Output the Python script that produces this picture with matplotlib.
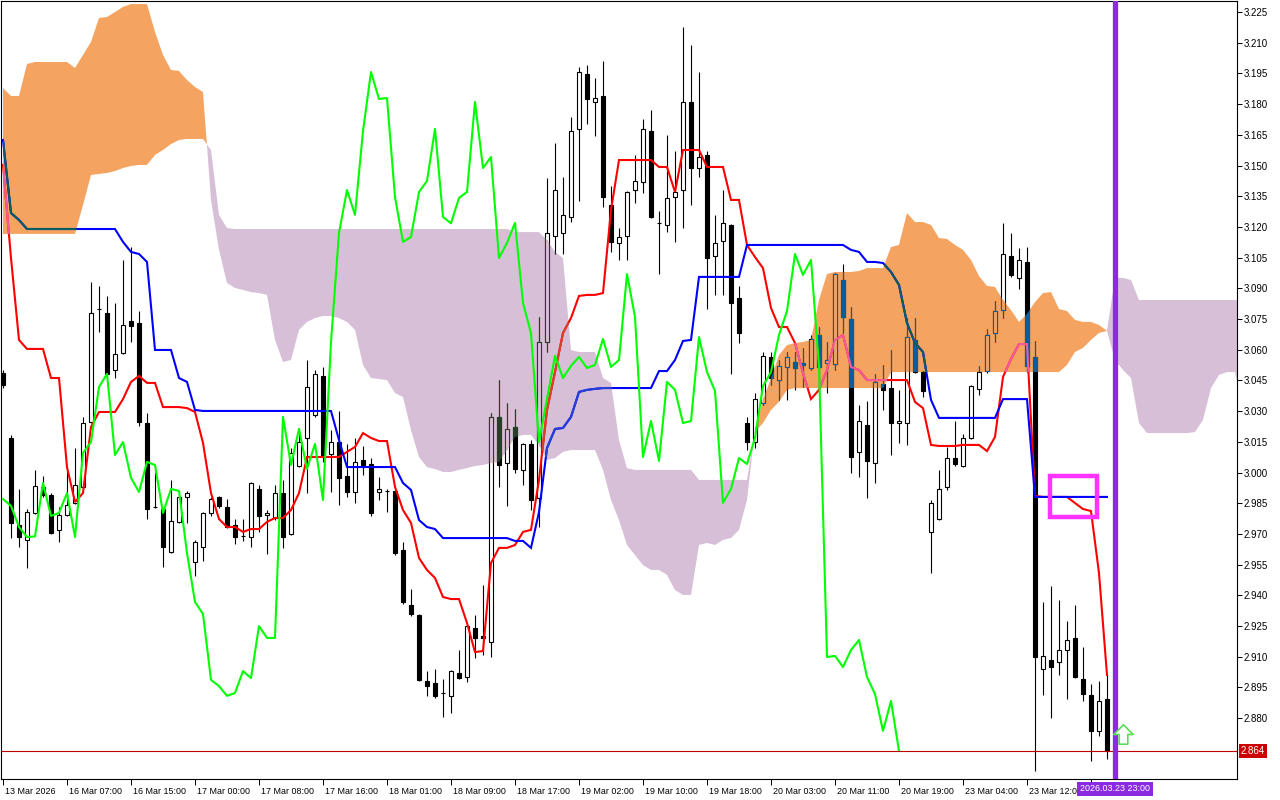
import numpy as np
import matplotlib
matplotlib.use("Agg")
import matplotlib.pyplot as plt
from matplotlib.path import Path
from matplotlib.patches import Rectangle
from matplotlib.transforms import ScaledTranslation, blended_transform_factory

# ---------------- data (hourly candles, index 0 .. 138) ----------------
opens = [3.0487, 3.0169, 2.9744, 2.9671, 2.9803, 2.9929, 2.9890, 2.9720, 2.9793, 2.9852,
         2.9929, 3.0247, 3.0799, 3.0780, 3.0501, 3.0584, 3.0741, 3.0731, 3.0242, 2.9832,
         2.9822, 2.9612, 2.9758, 2.9881, 2.9563, 2.9636, 2.9803, 2.9881, 2.9832, 2.9744,
         2.9690, 2.9685, 2.9920, 2.9793, 2.9778, 2.9900, 2.9700, 3.0032, 3.0169, 3.0281,
         3.0472, 3.0091, 3.0149, 2.9983, 2.9905, 3.0062, 3.0042, 2.9905, 2.9912, 2.9910,
         2.9622, 2.9353, 2.9304, 2.8982, 2.8972, 2.8925, 2.8909, 2.9021, 2.9001, 2.9241,
         2.9201, 2.9172, 3.0272, 3.0047, 3.0223, 3.0013, 3.0140, 2.9876, 3.0638, 3.1156,
         3.1171, 3.1249, 3.1679, 3.1947, 3.1811, 3.1840, 3.1307, 3.1122, 3.1156, 3.1381,
         3.1420, 3.1669, 3.1220, 3.1210, 3.1346, 3.1381, 3.1811, 3.1488, 3.1552, 3.1058,
         3.1131, 3.1210, 3.0853, 3.0242, 3.0149, 3.0340, 3.0565, 3.0452, 3.0516, 3.0540,
         3.0535, 3.0511, 3.0672, 3.0535, 3.0530, 3.0941, 3.0750, 3.0101, 3.0232, 3.0047,
         3.0433, 3.0413, 3.0242, 3.0242, 3.0648, 3.0491, 2.9710, 2.9773, 2.9930, 3.0071,
         3.0032, 3.0169, 3.0409, 3.0496, 3.0682, 3.0794, 3.1058, 3.0951, 3.1029, 3.0565,
         2.9040, 2.9084, 2.9075, 2.9133, 2.9192, 2.8991, 2.8913, 2.8738, 2.8894]
highs = [3.0501, 3.0184, 2.9920, 2.9822, 3.0013, 2.9983, 2.9900, 2.9832, 3.0013, 3.0120,
         3.0272, 3.0931, 3.0912, 3.0863, 3.0829, 3.1039, 3.1102, 3.0789, 3.0291, 3.0003,
         2.9827, 2.9964, 2.9900, 2.9910, 2.9671, 2.9808, 2.9881, 2.9885, 2.9871, 2.9773,
         2.9773, 2.9954, 2.9939, 2.9817, 2.9939, 2.9964, 3.0120, 3.0218, 3.0550, 3.0501,
         3.0516, 3.0208, 3.0301, 3.0140, 3.0169, 3.0130, 3.0071, 2.9978, 2.9920, 2.9915,
         2.9661, 2.9431, 2.9309, 2.9030, 2.9040, 2.8991, 2.9035, 2.9133, 2.9255, 2.9304,
         2.9451, 3.0291, 3.0452, 3.0340, 3.0311, 3.0145, 3.0159, 3.0760, 3.1439, 3.1610,
         3.1444, 3.1737, 3.1982, 3.1991, 3.1928, 3.2011, 3.1400, 3.1195, 3.1376, 3.1552,
         3.1728, 3.1772, 3.1278, 3.1649, 3.1571, 3.2177, 3.2089, 3.1957, 3.1571, 3.1259,
         3.1381, 3.1215, 3.0912, 3.0272, 3.0389, 3.0589, 3.0589, 3.0550, 3.0589, 3.0589,
         3.0609, 3.0672, 3.0711, 3.0638, 3.0975, 3.1019, 3.0809, 3.0330, 3.0350, 3.0482,
         3.0526, 3.0599, 3.0404, 3.0755, 3.0755, 3.0496, 2.9866, 3.0013, 3.0125, 3.0252,
         3.0188, 3.0428, 3.0521, 3.0702, 3.0838, 3.1220, 3.1171, 3.1097, 3.1102, 3.0643,
         2.9368, 2.9446, 2.9378, 2.9275, 2.9353, 2.9148, 2.8967, 2.8982, 2.9016]
lows = [3.0413, 2.9680, 2.9637, 2.9534, 2.9798, 2.9881, 2.9700, 2.9661, 2.9788, 2.9847,
        2.9915, 3.0242, 3.0687, 3.0477, 3.0462, 3.0579, 3.0638, 3.0228, 2.9773, 2.9827,
        2.9539, 2.9607, 2.9754, 2.9754, 2.9495, 2.9568, 2.9788, 2.9827, 2.9729, 2.9651,
        2.9666, 2.9636, 2.9710, 2.9602, 2.9768, 2.9632, 2.9695, 3.0027, 2.9900, 3.0270,
        3.0052, 2.9905, 2.9842, 2.9881, 2.9852, 2.9988, 2.9788, 2.9866, 2.9808, 2.9597,
        2.9358, 2.9299, 2.8982, 2.8909, 2.8899, 2.8806, 2.8825, 2.8991, 2.8977, 2.9094,
        2.9108, 2.9099, 2.9930, 2.9837, 2.9998, 2.9939, 2.9817, 2.9734, 3.0589, 3.1068,
        3.1068, 3.1224, 3.1327, 3.1703, 3.1645, 3.1298, 3.1078, 3.1039, 3.1039, 3.1317,
        3.1366, 3.1244, 3.0970, 3.1175, 3.1127, 3.1195, 3.1307, 3.1444, 3.0799, 3.0868,
        3.0868, 3.0482, 3.0633, 3.0110, 3.0120, 3.0330, 3.0428, 3.0355, 3.0355, 3.0404,
        3.0418, 3.0501, 3.0379, 3.0389, 3.0501, 3.0682, 2.9998, 2.9978, 2.9876, 2.9949,
        3.0306, 3.0086, 3.0145, 3.0135, 3.0487, 3.0369, 2.9509, 2.9768, 2.9915, 3.0032,
        3.0027, 3.0164, 3.0379, 3.0487, 3.0638, 3.0755, 3.0956, 3.0897, 3.0491, 2.8542,
        2.8913, 2.8801, 2.9011, 2.8894, 2.8996, 2.8884, 2.8591, 2.8713, 2.8601]
closes = [3.0428, 2.9754, 2.9685, 2.9808, 2.9934, 2.9890, 2.9705, 2.9793, 2.9842, 2.9939,
          3.0242, 3.0780, 3.0797, 3.0482, 3.0579, 3.0721, 3.0716, 3.0247, 2.9822, 2.9830,
          2.9636, 2.9763, 2.9881, 2.9900, 2.9661, 2.9803, 2.9871, 2.9837, 2.9734, 2.9685,
          2.9688, 2.9949, 2.9788, 2.9803, 2.9900, 2.9685, 3.0096, 3.0149, 3.0418, 3.0482,
          3.0086, 3.0149, 2.9974, 2.9905, 3.0052, 3.0037, 2.9803, 2.9920, 2.9910, 2.9607,
          2.9368, 2.9309, 2.8987, 2.8957, 2.8909, 2.8923, 2.9030, 2.8996, 2.9250, 2.9192,
          2.9192, 3.0272, 3.0037, 3.0213, 3.0018, 3.0140, 2.9866, 3.0638, 3.1171, 3.1381,
          3.1259, 3.1669, 3.1957, 3.1825, 3.1830, 3.1346, 3.1127, 3.1151, 3.1371, 3.1425,
          3.1679, 3.1249, 3.1218, 3.1342, 3.1371, 3.1811, 3.1488, 3.1542, 3.1048, 3.1122,
          3.1220, 3.0829, 3.0682, 3.0149, 3.0360, 3.0570, 3.0462, 3.0521, 3.0565, 3.0511,
          3.0526, 3.0653, 3.0516, 3.0550, 3.0970, 3.0760, 3.0076, 3.0252, 3.0057, 3.0443,
          3.0404, 3.0242, 3.0252, 3.0662, 3.0491, 3.0399, 2.9852, 2.9920, 3.0071, 3.0042,
          3.0169, 3.0423, 3.0491, 3.0672, 3.0789, 3.1068, 3.0965, 3.1039, 3.0521, 2.9099,
          2.9104, 2.9050, 2.9133, 2.9182, 2.9001, 2.8918, 2.8738, 2.8884, 2.8640]

tenkan = [3.1503, 3.1048, 3.0648, 3.0604, 3.0604, 3.0604, 3.0462, 3.0462, 3.0027, 2.9856,
          2.9900, 3.0223, 3.0296, 3.0296, 3.0296, 3.0359, 3.0443, 3.0472, 3.0438, 3.0438,
          3.0320, 3.0320, 3.0320, 3.0315, 3.0296, 3.0145, 2.9900, 2.9773, 2.9734, 2.9734,
          2.9710, 2.9724, 2.9724, 2.9759, 2.9778, 2.9778, 2.9817, 2.9900, 3.0076, 3.0076,
          3.0076, 3.0076, 3.0076, 3.0101, 3.0125, 3.0193, 3.0169, 3.0154, 3.0154, 2.9930,
          2.9817, 2.9754, 2.9583, 2.9524, 2.9485, 2.9392, 2.9382, 2.9382, 2.9265, 2.9123,
          2.9128, 2.9558, 2.9632, 2.9632, 2.9646, 2.9710, 2.9720, 2.9964, 3.0306, 3.0491,
          3.0682, 3.0755, 3.0863, 3.0868, 3.0868, 3.0877, 3.1283, 3.1527, 3.1527, 3.1527,
          3.1527, 3.1527, 3.1493, 3.1493, 3.1371, 3.1576, 3.1576, 3.1576, 3.1493, 3.1493,
          3.1493, 3.1332, 3.1332, 3.1112, 3.1053, 3.0999, 3.0804, 3.0711, 3.0711, 3.0633,
          3.0486, 3.0359, 3.0404, 3.0501, 3.0648, 3.0672, 3.0516, 3.0501, 3.0452, 3.0452,
          3.0452, 3.0452, 3.0452, 3.0452, 3.0345, 3.0315, 3.0135, 3.0130, 3.0130, 3.0130,
          3.0135, 3.0135, 3.0135, 3.0105, 3.0174, 3.0467, 3.0555, 3.0628, 3.0628, 2.9886,
          2.9881, 2.9881, 2.9881, 2.9881, 2.9851, 2.9822, 2.9812, 2.9509, 2.9011]
kijun = [3.1625, 3.1268, 3.1234, 3.1190, 3.1190, 3.1190, 3.1190, 3.1190, 3.1190, 3.1190,
         3.1190, 3.1190, 3.1190, 3.1190, 3.1190, 3.1127, 3.1078, 3.1068, 3.1029, 3.0599,
         3.0599, 3.0599, 3.0462, 3.0443, 3.0306, 3.0301, 3.0301, 3.0301, 3.0301, 3.0301,
         3.0301, 3.0301, 3.0301, 3.0301, 3.0301, 3.0301, 3.0301, 3.0301, 3.0301, 3.0301,
         3.0301, 3.0301, 3.0159, 3.0027, 3.0027, 3.0027, 3.0027, 3.0027, 3.0027, 3.0027,
         2.9949, 2.9915, 2.9768, 2.9734, 2.9724, 2.9680, 2.9680, 2.9680, 2.9680, 2.9680,
         2.9680, 2.9680, 2.9680, 2.9680, 2.9666, 2.9666, 2.9632, 2.9807, 3.0120, 3.0213,
         3.0218, 3.0272, 3.0394, 3.0404, 3.0409, 3.0413, 3.0413, 3.0413, 3.0413, 3.0413,
         3.0413, 3.0413, 3.0496, 3.0496, 3.0550, 3.0643, 3.0648, 3.0956, 3.0956, 3.0956,
         3.0956, 3.0956, 3.0956, 3.1112, 3.1112, 3.1112, 3.1112, 3.1112, 3.1112, 3.1112,
         3.1112, 3.1112, 3.1112, 3.1112, 3.1112, 3.1112, 3.1088, 3.1078, 3.1029, 3.1029,
         3.1024, 3.0980, 3.0917, 3.0731, 3.0633, 3.0589, 3.0355, 3.0267, 3.0267, 3.0267,
         3.0267, 3.0267, 3.0267, 3.0267, 3.0267, 3.0359, 3.0359, 3.0359, 3.0359, 2.9881,
         2.9881, 2.9881, 2.9881, 2.9881, 2.9881, 2.9881, 2.9881, 2.9881, 2.9881]

# cloud spans as displayed (already shifted 26 bars forward), index 0 .. 155
span_a = [3.1879, 3.1840, 3.1840, 3.1996, 3.2006, 3.2006, 3.2006, 3.2006, 3.2006, 3.1977,
          3.2040, 3.2104, 3.2221, 3.2226, 3.2250, 3.2275, 3.2289, 3.2289, 3.2289, 3.2153,
          3.2040, 3.1967, 3.1962, 3.1918, 3.1884, 3.1859, 3.1332, 3.1088, 3.0926, 3.0902,
          3.0892, 3.0882, 3.0877, 3.0868, 3.0648, 3.0540, 3.0550, 3.0697, 3.0736, 3.0755,
          3.0765, 3.0765, 3.0755, 3.0736, 3.0697, 3.0526, 3.0462, 3.0457, 3.0452, 3.0389,
          3.0369, 3.0208, 3.0076, 3.0027, 3.0017, 3.0003, 3.0003, 3.0013, 3.0022, 3.0032,
          3.0037, 3.0047, 3.0052, 3.0110, 3.0174, 3.0184, 3.0184, 3.0135, 3.0062, 3.0071,
          3.0101, 3.0110, 3.0110, 3.0110, 3.0110, 3.0013, 2.9866, 2.9768, 2.9646, 2.9597,
          2.9548, 2.9524, 2.9524, 2.9500, 2.9426, 2.9402, 2.9402, 2.9646, 2.9656, 2.9646,
          2.9671, 2.9680, 2.9720, 2.9866, 3.0208, 3.0355, 3.0462, 3.0574, 3.0623, 3.0633,
          3.0638, 3.0648, 3.0843, 3.0970, 3.0980, 3.0980, 3.0980, 3.0985, 3.0999, 3.0999,
          3.0999, 3.1102, 3.1112, 3.1268, 3.1224, 3.1224, 3.1210, 3.1146, 3.1141, 3.1112,
          3.1088, 3.1039, 3.0960, 3.0912, 3.0907, 3.0843, 3.0794, 3.0736, 3.0775, 3.0833,
          3.0877, 3.0882, 3.0799, 3.0789, 3.0746, 3.0736, 3.0736, 3.0721, 3.0692, 3.0550,
          3.0501, 3.0462, 3.0242, 3.0193, 3.0193, 3.0193, 3.0193, 3.0193, 3.0193, 3.0198,
          3.0257, 3.0413, 3.0477, 3.0491, 3.0491, 3.0315]
span_b = [3.1166, 3.1166, 3.1166, 3.1166, 3.1166, 3.1166, 3.1166, 3.1166, 3.1166, 3.1166,
          3.1307, 3.1454, 3.1459, 3.1464, 3.1473, 3.1488, 3.1498, 3.1503, 3.1503, 3.1552,
          3.1576, 3.1605, 3.1625, 3.1630, 3.1630, 3.1630, 3.1576, 3.1259, 3.1195, 3.1190,
          3.1190, 3.1190, 3.1190, 3.1190, 3.1190, 3.1190, 3.1190, 3.1190, 3.1190, 3.1190,
          3.1190, 3.1190, 3.1190, 3.1190, 3.1190, 3.1190, 3.1190, 3.1190, 3.1190, 3.1190,
          3.1190, 3.1190, 3.1190, 3.1190, 3.1190, 3.1190, 3.1190, 3.1190, 3.1190, 3.1190,
          3.1190, 3.1190, 3.1190, 3.1190, 3.1175, 3.1175, 3.1175, 3.1175, 3.1136, 3.1078,
          3.1048, 3.0599, 3.0589, 3.0589, 3.0589, 3.0462, 3.0438, 3.0159, 3.0022, 3.0013,
          3.0013, 3.0013, 3.0013, 3.0013, 3.0013, 3.0013, 3.0013, 2.9964, 2.9964, 2.9964,
          2.9964, 2.9964, 2.9964, 2.9964, 3.0198, 3.0242, 3.0306, 3.0345, 3.0404, 3.0413,
          3.0413, 3.0413, 3.0413, 3.0413, 3.0413, 3.0413, 3.0413, 3.0413, 3.0413, 3.0413,
          3.0413, 3.0491, 3.0491, 3.0491, 3.0491, 3.0491, 3.0491, 3.0491, 3.0491, 3.0491,
          3.0491, 3.0491, 3.0491, 3.0491, 3.0491, 3.0491, 3.0491, 3.0491, 3.0491, 3.0491,
          3.0491, 3.0491, 3.0491, 3.0526, 3.0589, 3.0609, 3.0648, 3.0682, 3.0692, 3.0951,
          3.0951, 3.0941, 3.0843, 3.0843, 3.0843, 3.0843, 3.0843, 3.0843, 3.0843, 3.0843,
          3.0843, 3.0843, 3.0843, 3.0843, 3.0843, 3.0843]
chikou_shift = 26

# one tick every 8 bars; the tick under the vertical-line label has no visible text
time_labels = ["13 Mar 2026", "16 Mar 07:00", "16 Mar 15:00", "17 Mar 00:00", "17 Mar 08:00",
               "17 Mar 16:00", "18 Mar 01:00", "18 Mar 09:00", "18 Mar 17:00", "19 Mar 02:00",
               "19 Mar 10:00", "19 Mar 18:00", "20 Mar 03:00", "20 Mar 11:00", "20 Mar 19:00",
               "23 Mar 04:00", "23 Mar 12:00", ""]
time_label_idx = list(range(0, 137, 8))
price_ticks = [3.225, 3.210, 3.195, 3.180, 3.165, 3.150, 3.135, 3.120, 3.105, 3.090, 3.075,
               3.060, 3.045, 3.030, 3.015, 3.000, 2.985, 2.970, 2.955, 2.940, 2.925, 2.910,
               2.895, 2.880]
last_price = 2.864
vline_idx = 139
vline_label = "2026.03.23 23:00"
signal_idx = 140
signal_price = 2.8725
box_idx = (130.9, 136.8)
box_price = (2.9783, 2.9983)

# ---------------- styles ----------------
FONT = "Liberation Sans"
FS = 6.4
FS_Y = 7.0
CLOUD_UP = "#F4A460"   # sandy brown
CLOUD_DN = "#D8BFD8"   # thistle
INV_UP = "#0B5B9F"
INV_DN = "#274027"
TENKAN_C, KIJUN_C, CHIKOU_C = "#FF0000", "#0000FF", "#00FF00"
TENKAN_UP, TENKAN_DN = "#F45B9F", "#D84027"
KIJUN_UP, KIJUN_DN = "#0B5B60", "#2740D8"

o = np.array(opens); h = np.array(highs); l = np.array(lows); c = np.array(closes)
n = len(c)
idx = np.arange(n)

fig = plt.figure(figsize=(12.8, 8), dpi=100)
ax = fig.add_axes([1 / 1280, 21 / 800, 1236 / 1280, 778 / 800])
ax.set_xlim(-0.25, 154.25)
ax.set_ylim(2.85028, 3.2304)

# cloud
cx = np.arange(len(span_a))
a = np.array(span_a); b = np.array(span_b)
up = ax.fill_between(cx, a, b, where=a >= b, interpolate=True, color=CLOUD_UP,
                     linewidth=0, zorder=1)
dn = ax.fill_between(cx, a, b, where=a < b, interpolate=True, color=CLOUD_DN,
                     linewidth=0, zorder=1)
clip_up = Path.make_compound_path(*up.get_paths())
clip_dn = Path.make_compound_path(*dn.get_paths())


def draw_candles(bull_face, bear_face, edge, z, clip=None):
    bull = c >= o
    wicks = ax.vlines(idx, l, h, colors=edge, linewidth=0.8, zorder=z)
    bottoms = np.minimum(o, c)
    heights = np.abs(c - o)
    faces = [bull_face if bb else bear_face for bb in bull]
    bars = ax.bar(idx, heights, bottom=bottoms, width=0.58, color=faces,
                  edgecolor=edge, linewidth=0.8, zorder=z + 0.1)
    if clip is not None:
        wicks.set_clip_path(clip, ax.transData)
        for p in bars.patches:
            p.set_clip_path(clip, ax.transData)


def draw_line(y, color, z, clip=None):
    ln, = ax.plot(idx, y, color=color, lw=1.5, zorder=z, solid_joinstyle="miter")
    if clip is not None:
        ln.set_clip_path(clip, ax.transData)


# normal layer
draw_candles("white", "black", "black", 2)
draw_line(tenkan, TENKAN_C, 2.5)
draw_line(kijun, KIJUN_C, 2.5)
# inverted look inside the cloud
draw_candles(CLOUD_UP, INV_UP, INV_UP, 3, clip_up)
draw_candles(CLOUD_DN, INV_DN, INV_DN, 3, clip_dn)
draw_line(tenkan, TENKAN_UP, 3.5, clip_up)
draw_line(tenkan, TENKAN_DN, 3.5, clip_dn)
draw_line(kijun, KIJUN_UP, 3.5, clip_up)
draw_line(kijun, KIJUN_DN, 3.5, clip_dn)

# chikou span: close shifted back
ax.plot(idx[chikou_shift:] - chikou_shift, c[chikou_shift:], color=CHIKOU_C, lw=1.5, zorder=4)

# objects
ax.axhline(last_price, color="#C00000", lw=0.8, zorder=5)
ax.add_patch(Rectangle((box_idx[0], box_price[0]), box_idx[1] - box_idx[0],
                       box_price[1] - box_price[0], fill=False, ec="#FF33FF", lw=3.2, zorder=6))
ax.axvline(vline_idx, color="#8A2BE2", lw=3.8, zorder=6)
arrow = Path([(-0.5, 0.0), (0.0, 0.5), (0.5, 0.0), (0.22, 0.0), (0.22, -0.5),
              (-0.22, -0.5), (-0.22, 0.0), (-0.5, 0.0)], closed=True)
ax.plot([signal_idx], [signal_price], marker=arrow, ms=14, mfc="white", mec="#55DD55",
        mew=1.2, zorder=7, clip_on=False)

# axes styling
for s in ax.spines.values():
    s.set_linewidth(0.8)
    s.set_color("black")
ax.yaxis.tick_right()
ax.set_yticks(price_ticks)
ax.set_yticklabels([f"{p:.3f}" for p in price_ticks], fontsize=FS_Y, family=FONT)
ax.tick_params(axis="y", direction="out", length=3.5, width=0.7, pad=1)
ax.set_xticks(time_label_idx)
ax.set_xticklabels(time_labels, fontsize=FS, family=FONT)
ax.tick_params(axis="x", direction="out", length=4, width=0.7, pad=2)
shift = ScaledTranslation(2 / 100, 0, fig.dpi_scale_trans)
for lbl in ax.get_xticklabels():
    lbl.set_ha("left")
    lbl.set_transform(lbl.get_transform() + shift)

ax.text(1.0 + 4 / 1236, last_price, f"{last_price:.3f}", transform=blended_transform_factory(ax.transAxes, ax.transData),
        ha="left", va="center", color="white", fontsize=FS_Y, family=FONT, clip_on=False, zorder=10,
        bbox=dict(boxstyle="square,pad=0.2", fc="#CC0000", ec="none"))
ax.text(vline_idx, -0.0128, vline_label, transform=blended_transform_factory(ax.transData, ax.transAxes),
        ha="center", va="center", color="white", fontsize=FS, family=FONT, clip_on=False, zorder=10,
        bbox=dict(boxstyle="square,pad=0.3", fc="#8A2BE2", ec="none"))

fig.savefig("out.png", dpi=100, facecolor="white")
